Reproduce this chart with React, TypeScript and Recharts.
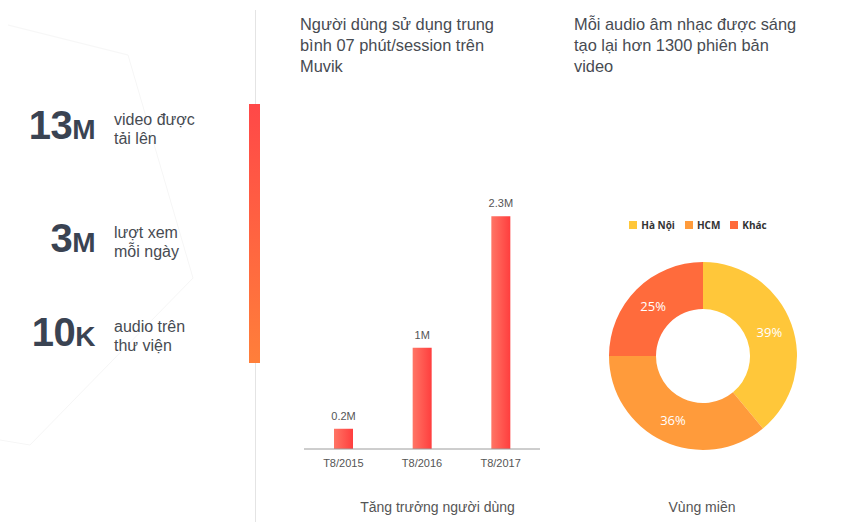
import React from "react";
import {
  Bar,
  BarChart,
  Cell,
  LabelList,
  Legend,
  Pie,
  PieChart,
  XAxis,
  YAxis,
} from "recharts";

// user growth
const growthMonths = ["T8/2015", "T8/2016", "T8/2017"];
const growthUsers = [0.2, 1, 2.3];
const growthLabels = ["0.2M", "1M", "2.3M"];

// regions
const regionNames = ["Hà Nội", "HCM", "Khác"];
const regionShares = [39, 36, 25];
const regionColors = ["#FFC73A", "#FF9B3B", "#FF6B3C"];

// left side stats
const statValues = ["13", "3", "10"];
const statUnits = ["M", "M", "K"];
const statLines = [
  ["video được", "tải lên"],
  ["lượt xem", "mỗi ngày"],
  ["audio trên", "thư viện"],
];
const statTops = [102, 215, 309];

const FONT = '"Liberation Sans", Arial, sans-serif';

const growthData = growthMonths.map((m, i) => ({
  month: m,
  users: growthUsers[i],
  label: growthLabels[i],
}));

const regionData = regionNames.map((n, i) => ({
  name: n,
  value: regionShares[i],
}));

const RADIAN = Math.PI / 180;

function PieLabel(props: any) {
  const { cx, cy, midAngle, innerRadius, outerRadius, value } = props;
  const r = (innerRadius + outerRadius) / 2;
  const x = cx + r * Math.cos(-midAngle * RADIAN);
  const y = cy + r * Math.sin(-midAngle * RADIAN);
  return (
    <text
      x={x}
      y={y}
      fill="#fff"
      textAnchor="middle"
      dominantBaseline="central"
      fontSize={13}
      fontFamily='"Open Sans", sans-serif'
    >
      {value}%
    </text>
  );
}

export default function App() {
  return (
    <div
      style={{
        position: "fixed",
        left: 0,
        top: 0,
        width: 848,
        height: 527,
        background: "#fff",
        fontFamily: FONT,
        overflow: "hidden",
      }}
    >
      {/* faint background shape */}
      <svg width={848} height={527} style={{ position: "absolute", left: 0, top: 0 }}>
        <polyline
          points="8,25 128,55 193,278 30,445 0,440"
          fill="none"
          stroke="#f6f6f6"
          strokeWidth={1}
        />
        <line x1={255.5} y1={10} x2={255.5} y2={522} stroke="#e4e4e4" strokeWidth={1} />
        <defs>
          <linearGradient id="sideBar" x1="0" y1="0" x2="0" y2="1">
            <stop offset="0%" stopColor="#FF4848" />
            <stop offset="100%" stopColor="#FF7F3A" />
          </linearGradient>
        </defs>
        <rect x={249} y={104} width={11} height={259} fill="url(#sideBar)" />
      </svg>

      {/* stats */}
      {statValues.map((v, i) => (
        <React.Fragment key={v + i}>
          <div
            style={{
              position: "absolute",
              left: 0,
              width: 95,
              top: statTops[i],
              textAlign: "right",
              color: "#3A4352",
              fontWeight: 700,
              fontSize: 40,
              lineHeight: "46px",
              letterSpacing: -0.5,
            }}
          >
            {v}
            <span style={{ fontSize: 28 }}>{statUnits[i]}</span>
          </div>
          <div
            style={{
              position: "absolute",
              left: 114,
              top: statTops[i] + 8,
              color: "#474b52",
              fontSize: 16,
              lineHeight: "19px",
            }}
          >
            {statLines[i][0]}
            <br />
            {statLines[i][1]}
          </div>
        </React.Fragment>
      ))}

      {/* titles */}
      <div
        style={{
          position: "absolute",
          left: 300,
          top: 14,
          color: "#474b52",
          fontSize: 16.4,
          lineHeight: "21px",
        }}
      >
        Người dùng sử dụng trung
        <br />
        bình 07 phút/session trên
        <br />
        Muvik
      </div>
      <div
        style={{
          position: "absolute",
          left: 574,
          top: 14,
          color: "#474b52",
          fontSize: 16.4,
          lineHeight: "21px",
        }}
      >
        Mỗi audio âm nhạc được sáng
        <br />
        tạo lại hơn 1300 phiên bản
        <br />
        video
      </div>

      {/* bar chart */}
      <div style={{ position: "absolute", left: 290, top: 180 }}>
        <BarChart
          width={265}
          height={300}
          data={growthData}
          margin={{ top: 16, right: 15, bottom: 1, left: 14 }}
        >
          <defs>
            <linearGradient id="barFill" x1="0" y1="0" x2="1" y2="0">
              <stop offset="0%" stopColor="#FF7565" />
              <stop offset="100%" stopColor="#FF3E3E" />
            </linearGradient>
          </defs>
          <XAxis
            dataKey="month"
            height={30}
            tickLine={false}
            axisLine={{ stroke: "#9c9c9c" }}
            tick={{ fill: "#555", fontSize: 11, fontFamily: FONT, dy: 2 }}
          />
          <YAxis hide domain={[0, 2.5]} />
          <Bar
            dataKey="users"
            fill="url(#barFill)"
            barSize={19}
            isAnimationActive={false}
          >
            <LabelList
              dataKey="label"
              position="top"
              offset={9}
              style={{ fill: "#555", fontSize: 11, fontFamily: FONT }}
            />
          </Bar>
        </BarChart>
      </div>
      <div
        style={{
          position: "absolute",
          left: 300,
          width: 275,
          top: 499,
          textAlign: "center",
          color: "#555",
          fontSize: 14,
        }}
      >
        Tăng trưởng người dùng
      </div>

      {/* pie chart */}
      <div style={{ position: "absolute", left: 590, top: 200 }}>
        <PieChart width={226} height={280} margin={{ top: 0, right: 0, bottom: 0, left: 0 }}>
          <Legend
            verticalAlign="top"
            align="center"
            iconType="square"
            iconSize={8}
            itemSorter={(item: any) => regionNames.indexOf(item.value)}
            wrapperStyle={{ top: 15 }}
            formatter={(value: string) => (
              <span
                style={{
                  color: "#333",
                  fontSize: 10,
                  fontWeight: 700,
                  fontFamily: '"Open Sans", sans-serif',
                }}
              >
                {value}
              </span>
            )}
          />
          <Pie
            data={regionData}
            dataKey="value"
            nameKey="name"
            cx={113}
            cy={138}
            innerRadius={47}
            outerRadius={94}
            startAngle={90}
            endAngle={-270}
            stroke="none"
            label={PieLabel}
            labelLine={false}
            isAnimationActive={false}
          >
            {regionData.map((d, i) => (
              <Cell key={d.name} fill={regionColors[i]} />
            ))}
          </Pie>
        </PieChart>
      </div>
      <div
        style={{
          position: "absolute",
          left: 600,
          width: 204,
          top: 499,
          textAlign: "center",
          color: "#555",
          fontSize: 14,
        }}
      >
        Vùng miền
      </div>
    </div>
  );
}
